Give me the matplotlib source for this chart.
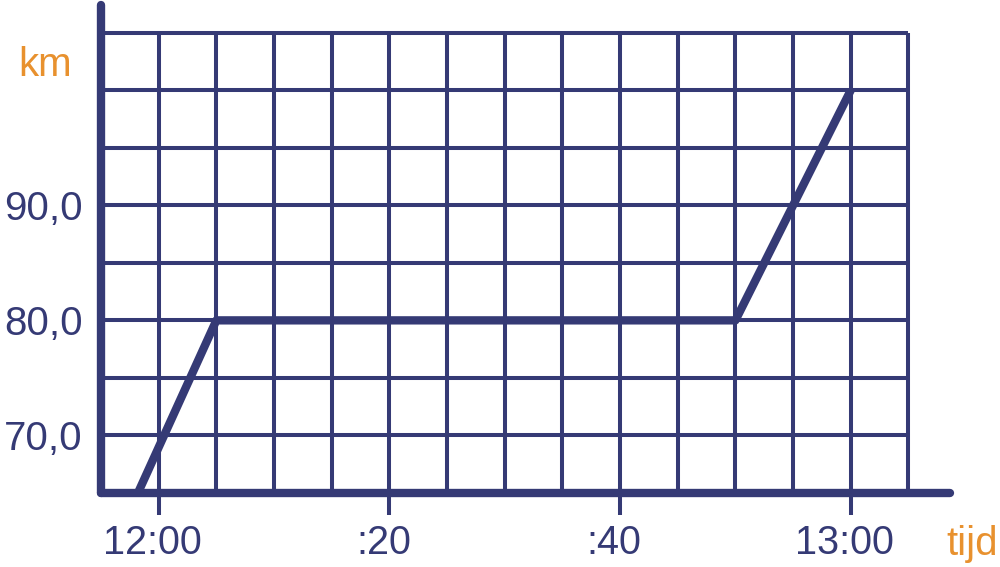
import matplotlib
matplotlib.use('Agg')
import matplotlib.pyplot as plt
from matplotlib.transforms import ScaledTranslation

# minutes after 12:00 and distance in km
tijd = [-1.8, 5, 50, 60]
km = [65, 80, 80, 100]

x_ticks = [0, 20, 40, 60]
x_labels = ['12:00', ':20', ':40', '13:00']
y_ticks = [70, 80, 90]
y_labels = ['70,0', '80,0', '90,0']

grid_x = list(range(-5, 66, 5))
grid_y = list(range(65, 106, 5))

navy = '#353a75'
orange = '#e8912e'
plt.rcParams['font.family'] = ['Liberation Sans', 'DejaVu Sans']

fig = plt.figure(figsize=(10, 5.67), dpi=100)
ax = fig.add_axes([0.101, 0.1305, 0.849, 0.8607])
ax.set_xlim(-5, 68.6)
ax.set_ylim(65, 107.4)

# grid
ax.vlines(grid_x, 65, 105, color=navy, lw=2.9, zorder=1)
ax.hlines(grid_y, -5, 65, color=navy, lw=2.9, zorder=1)

ax.plot(tijd, km, color=navy, lw=6, solid_capstyle='butt', zorder=3)

for s in ['top', 'right']:
    ax.spines[s].set_visible(False)
for s in ['left', 'bottom']:
    ax.spines[s].set_color(navy)
    ax.spines[s].set_linewidth(6)
    ax.spines[s].set_capstyle('round')
    ax.spines[s].set_zorder(4)

ax.set_xticks(x_ticks)
ax.set_xticklabels(x_labels)
ax.set_yticks(y_ticks)
ax.set_yticklabels(y_labels)
ax.tick_params(axis='x', length=16, width=2.9, color=navy, labelcolor=navy,
               labelsize=28.5, pad=6)
ax.tick_params(axis='y', length=0, labelcolor=navy, labelsize=29, pad=13)

# labels sit a bit left of their ticks in the original
shift = ScaledTranslation(-6 / 100, 0, fig.dpi_scale_trans)
for lab in ax.get_xticklabels():
    lab.set_transform(lab.get_transform() + shift)

fig.text(0.045, 0.885, 'km', color=orange, fontsize=29, ha='center', va='center')
fig.text(0.972, 0.04, 'tijd', color=orange, fontsize=29, ha='center', va='center')

fig.savefig('out.png', dpi=100)
